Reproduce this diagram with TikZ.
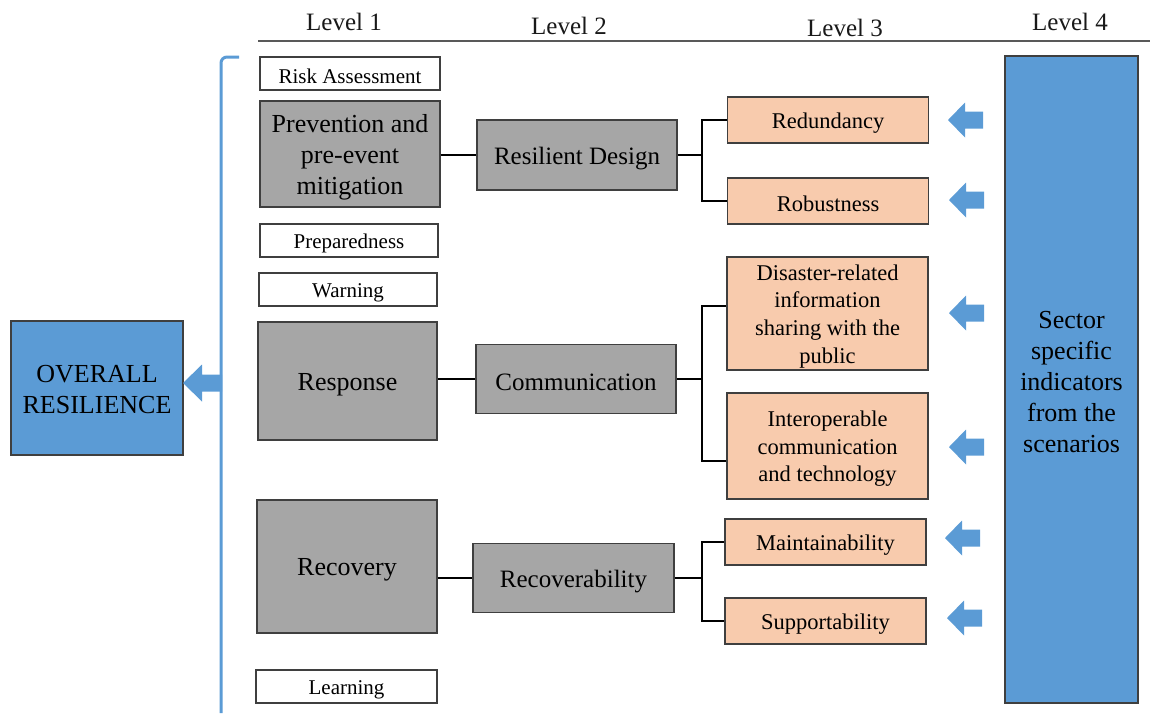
\documentclass[tikz,border=0pt]{standalone}
\usepackage{fontspec}
\setmainfont{LiberationSerif}[Extension=.ttf,UprightFont=*-Regular,BoldFont=*-Bold,ItalicFont=*-Italic,BoldItalicFont=*-BoldItalic]
% invisible strut that raises the first line's height, setting box text slightly lower
\newcommand\lowr[1]{\rule{0pt}{\dimexpr0.683em+#1\relax}}
\begin{document}
\definecolor{ablue}{HTML}{5B9BD5}
\definecolor{boxgray}{HTML}{A6A6A6}
\definecolor{peach}{HTML}{F8CBAD}
\definecolor{edge}{HTML}{3F3F3F}
\begin{tikzpicture}[x=1pt,y=-1pt,
  base/.style={draw=edge,line width=1.4pt,inner sep=0pt,align=center,text=black,
    execute at begin node={\lowr{6.5pt}}},
  whitebox/.style={base,fill=white,minimum width=180pt,minimum height=33pt,font=\fontsize{21}{25}\selectfont},
  graybig/.style={base,fill=boxgray,minimum width=180pt,font=\fontsize{26}{31}\selectfont},
  graymid/.style={base,fill=boxgray,minimum width=200pt,minimum height=69pt,font=\fontsize{25}{30}\selectfont},
  peachbox/.style={base,fill=peach,minimum width=201pt,font=\fontsize{22.5}{27.7}\selectfont},
  bluebox/.style={base,fill=ablue,font=\fontsize{26}{31}\selectfont},
  header/.style={font=\fontsize{25}{30}\selectfont,text=black!90},
  link/.style={draw=black,line width=1.8pt},
  bracket/.style={draw=ablue,line width=3pt,rounded corners=6pt},
  blockarrow/.pic={\fill[ablue] (0,0) -- (17,-17.5) -- (17,-8.5) -- (35,-8.5) -- (35,8.5) -- (17,8.5) -- (17,17.5) -- cycle;}
]
\useasboundingbox (0,0) rectangle (1150,713);

% column headings and rule
\node[header] (lv1) at (344,22) {Level 1};
\node[header] (lv2) at (569,26) {Level 2};
\node[header] (lv3) at (845,28) {Level 3};
\node[header] (lv4) at (1070,22) {Level 4};
\coordinate (ruleL) at (258,41);
\coordinate (ruleR) at (1150,41);
\draw[draw=black!65,line width=1.3pt] (ruleL) -- (ruleR);

% level 1
\node[whitebox] (risk) at (350,73.5) {Risk Assessment};
\node[graybig,minimum height=106pt] (prev) at (350,154) {\lowr{6pt}Prevention and\\pre-event\\mitigation};
\node[whitebox,minimum width=178pt] (prep) at (349,240.5) {Preparedness};
\node[whitebox,minimum width=178pt] (warn) at (348,289.5) {Warning};
\node[graybig,minimum width=179pt,minimum height=118pt] (resp) at (347.5,381) {Response};
\node[graybig,minimum height=133pt] (recov) at (347,566.5) {Recovery};
\node[whitebox,minimum width=181pt] (learn) at (346.5,686.5) {Learning};

% level 2
\node[graymid,minimum height=70pt] (resd) at (577,155) {Resilient Design};
\node[graymid] (comm) at (576,379) {Communication};
\node[graymid,minimum width=201pt] (recb) at (573.5,578) {Recoverability};

% level 3
\node[peachbox,minimum height=46pt] (redu) at (828,120) {Redundancy};
\node[peachbox,minimum height=46pt] (robu) at (828,201) {Robustness};
\node[peachbox,minimum height=113pt] (disa) at (827.5,313.5) {\lowr{6pt}Disaster-related\\information\\sharing with the\\public};
\node[peachbox,minimum height=106pt] (inte) at (827.5,446) {\lowr{6pt}Interoperable\\communication\\and technology};
\node[peachbox,minimum height=46pt] (main) at (825.5,542) {Maintainability};
\node[peachbox,minimum height=46pt] (supp) at (825.5,621) {Supportability};

% level 4 and overall result
\node[bluebox,minimum width=133pt,minimum height=647pt] (sector) at (1071.5,379.5) {\lowr{4pt}Sector\\specific\\indicators\\from the\\scenarios};
\node[bluebox,minimum width=172pt,minimum height=134pt] (overall) at (97,388) {\lowr{3pt}OVERALL\\RESILIENCE};

% links level 1 -> level 2
\draw[link] (prev.east |- resd.west) -- (resd.west);
\draw[link] (resp.east |- comm.west) -- (comm.west);
\draw[link] (recov.east |- recb.west) -- (recb.west);

% branching links level 2 -> level 3
\coordinate (j1) at ([xshift=24.5pt]resd.east);
\coordinate (j2) at ([xshift=25pt]comm.east);
\coordinate (j3) at ([xshift=27.5pt]recb.east);
\draw[link] (resd.east) -- (j1);
\draw[link] (j1) |- (redu.west);
\draw[link] (j1) |- (robu.west);
\draw[link] (comm.east) -- (j2);
\draw[link] (j2) |- ([yshift=7.5pt]disa.west);
\draw[link] (j2) |- ([yshift=-15pt]inte.west);
\draw[link] (recb.east) -- (j3);
\draw[link] (j3) |- (main.west);
\draw[link] (j3) |- (supp.west);

% bracket gathering level 1
\coordinate (brB) at (221,713);
\coordinate (brT) at (239,57);
\draw[bracket] (brB) |- (brT);

% block arrows
\pic at (948,120) {blockarrow};
\pic at (949,200) {blockarrow};
\pic at (949,313) {blockarrow};
\pic at (949,447) {blockarrow};
\pic at (945,538) {blockarrow};
\pic at (947,618) {blockarrow};
\fill[ablue] (183,383) -- (202,364.5) -- (202,374.5) -- (222,374.5) -- (222,391.5) -- (202,391.5) -- (202,401.5) -- cycle;
\end{tikzpicture}
\end{document}
